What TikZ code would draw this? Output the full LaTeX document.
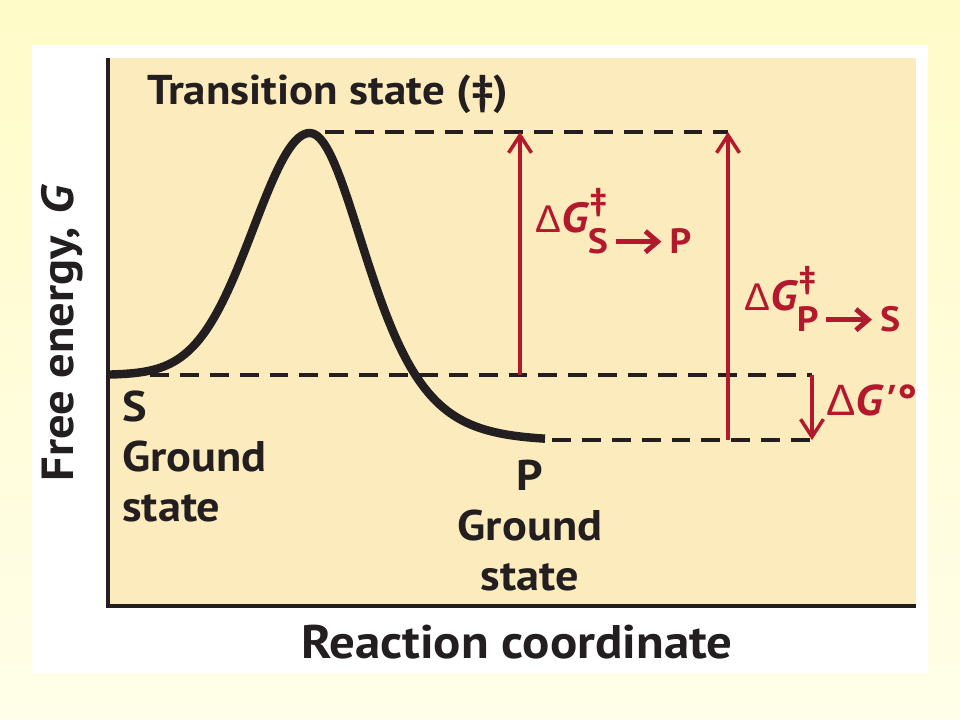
\documentclass[tikz,border=0pt]{standalone}
\usepackage{fontspec}
\setmainfont{PT Sans}[FakeStretch=1.08]
\newfontfamily\deltafont{Liberation Sans}
\usetikzlibrary{arrows.meta}
\usetikzlibrary{positioning}
\definecolor{paperhi}{RGB}{255,251,200}
\definecolor{paperlo}{RGB}{255,254,232}
\definecolor{plotbg}{RGB}{252,236,189}
\definecolor{ink}{RGB}{35,31,32}
\definecolor{rxnred}{RGB}{180,24,44}
% Delta G with double dagger and a "from -> to" subscript
\newcommand{\dgbar}[2]{%
{\deltafont\fontsize{22}{22}\selectfont Δ}%
{\bfseries\itshape\fontsize{24}{24}\selectfont G}%
\rlap{\hspace{1pt}\raisebox{12pt}{\bfseries\fontsize{18}{18}\selectfont ‡}}%
\raisebox{-12pt}{\bfseries\fontsize{20}{20}\selectfont #1\hspace{3pt}\tikz[baseline=-6.5pt]\draw[rxnred,line width=2.8pt,-{Straight Barb[length=7pt,width=12pt]}] (0,0) -- (26pt,0);\hspace{3pt}#2}}

\begin{document}
\begin{tikzpicture}[x=0.2mm,y=-0.2mm,
  lbl/.style={font=\bfseries\fontsize{24.4}{28.3}\selectfont,text=ink,inner sep=0pt},
  level/.style={ink,line width=2.8pt,dash pattern=on 10.8pt off 6.2pt},
  gap/.style={rxnred,line width=2pt,-{Straight Barb[length=10pt,width=13pt]}},
  dglbl/.style={text=rxnred,inner sep=0pt,anchor=base west}]
\useasboundingbox (0,0) rectangle (960,720);
\shade[top color=paperhi,bottom color=paperlo] (0,0) rectangle (960,720);
\fill[white] (32,45) rectangle (928,673);
\fill[plotbg] (108,58) rectangle (916,606);
\draw[ink,line width=2.8pt] (108,58) -- (108,606) -- (916,606);

% levels
\coordinate (ts) at (310,132);
\coordinate (gsS) at (108,375);
\coordinate (gsP) at (545,440);
\coordinate (a1) at (520,375);
\coordinate (a2) at (728,440);
\coordinate (a3) at (812,375);

% reaction profile
\draw[ink,line width=4.8pt] plot[domain=108:310,samples=70] (\x,{375-242*exp(-((\x-310)/80)^2)})
  -- plot[domain=310:545,samples=70] (\x,{441-308/(cosh((\x-310)/75))^2});

\draw[level] ([xshift=3mm]ts) -- (a2 |- ts);
\draw[level] ([xshift=8.4mm]gsS) -- (a3);
\draw[level] ([xshift=1.4mm]gsP) -- (a3 |- gsP);

\draw[gap] (a1) -- (a1 |- ts);
\draw[gap] (a2) -- (a2 |- ts);
\draw[gap] (a3) -- (a3 |- gsP);

\node[dglbl] (dgsp) at (535,232) {\dgbar{S}{P}};
\node[dglbl] (dgps) at (744,310) {\dgbar{P}{S}};
\node[dglbl] (dgo) at (826,415) {{\deltafont\fontsize{25}{25}\selectfont Δ}{\bfseries\itshape\fontsize{24.5}{25}\selectfont G\hspace{1pt}\textquotesingle°}};

\node[lbl,anchor=base west] (tslbl) at (147,105) {\fontsize{23.7}{28}\selectfont Transition state (‡)};
\node[lbl,anchor=north west,align=left] (sgs) at (122,391) {S\\Ground\\state};
\node[lbl,anchor=north,align=center] (pgs) at (530,460) {P\\Ground\\state};
\node[lbl,anchor=base] (xlbl) at (517,658) {\fontsize{26.8}{30}\selectfont Reaction coordinate};
\node[lbl,anchor=base,rotate=90] (ylbl) at (73,333) {\fontsize{25.6}{27}\selectfont Free energy, \textit{G}};
\end{tikzpicture}
\end{document}
